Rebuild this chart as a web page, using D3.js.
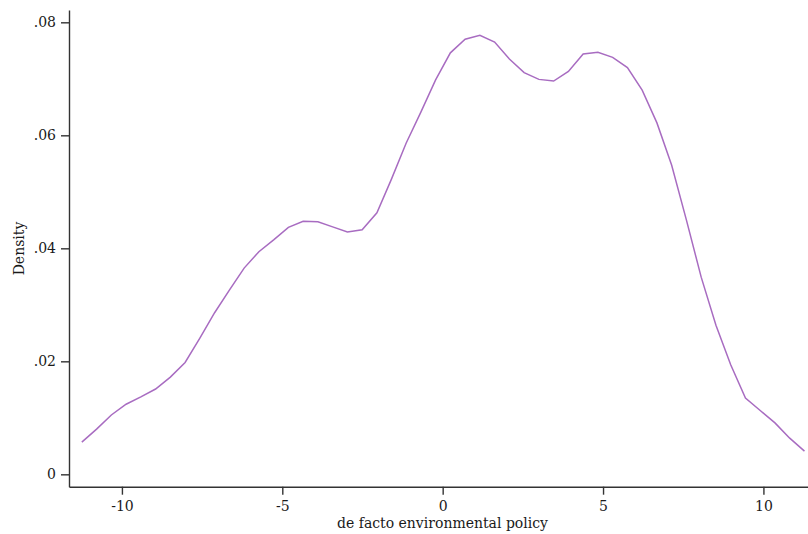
<!DOCTYPE html>
<html>
<head>
<meta charset="utf-8">
<script src="https://cdn.jsdelivr.net/npm/d3@7"></script>
<style>
  body { margin: 0; background: #fff; }
  svg text { font-family: "DejaVu Serif", "Liberation Serif", serif; fill: #1a1a1a; }
</style>
</head>
<body>
<div id="chart"></div>
<script>
// Kernel density estimate (50 evaluation points)
const xValues = [-11.25, -10.79, -10.33, -9.87, -9.41, -8.95, -8.49, -8.03, -7.57, -7.11,
                 -6.65, -6.19, -5.73, -5.27, -4.81, -4.35, -3.89, -3.43, -2.97, -2.51,
                 -2.05, -1.60, -1.14, -0.68, -0.22, 0.24, 0.70, 1.16, 1.62, 2.08,
                 2.54, 3.00, 3.46, 3.92, 4.38, 4.84, 5.30, 5.76, 6.22, 6.68,
                 7.14, 7.60, 8.06, 8.52, 8.98, 9.44, 9.90, 10.36, 10.82, 11.28];
const density = [0.0057, 0.0080, 0.0105, 0.0124, 0.0137, 0.0151, 0.0172, 0.0198, 0.0241, 0.0286,
                 0.0326, 0.0365, 0.0394, 0.0415, 0.0437, 0.0448, 0.0447, 0.0438, 0.0429, 0.0433,
                 0.0463, 0.0522, 0.0586, 0.0641, 0.0698, 0.0746, 0.0770, 0.0777, 0.0765, 0.0735,
                 0.0711, 0.0699, 0.0696, 0.0713, 0.0744, 0.0747, 0.0738, 0.0720, 0.0680, 0.0622,
                 0.0547, 0.0450, 0.0349, 0.0264, 0.0194, 0.0135, 0.0113, 0.0091, 0.0064, 0.0041];

const xTicks = [-10, -5, 0, 5, 10];
const xTickLabels = ['-10', '-5', '0', '5', '10'];
const yTicks = [0, 0.02, 0.04, 0.06, 0.08];
const yTickLabels = ['0', '.02', '.04', '.06', '.08'];

const width = 808, height = 534;
const svg = d3.select('#chart').append('svg')
    .attr('width', width)
    .attr('height', height);

const x = d3.scaleLinear().domain([-11.65, 11.39]).range([69, 808]);
const y = d3.scaleLinear().domain([-0.00219, 0.08218]).range([486.7, 10]);

// X axis
const xAxis = svg.append('g')
    .attr('transform', 'translate(0,486.7)')
    .call(d3.axisBottom(x).tickValues(xTicks).tickSize(8).tickPadding(6)
        .tickFormat((d, i) => xTickLabels[i]).tickSizeOuter(0));
xAxis.selectAll('text').style('font-size', '14px');

// Y axis
const yAxis = svg.append('g')
    .attr('transform', 'translate(69,0)')
    .call(d3.axisLeft(y).tickValues(yTicks).tickSize(8).tickPadding(5)
        .tickFormat((d, i) => yTickLabels[i]).tickSizeOuter(0));
yAxis.selectAll('text').style('font-size', '14px');

svg.selectAll('.domain, .tick line')
    .attr('stroke', '#333')
    .attr('stroke-width', 1.4);

// Axis titles
svg.append('text')
    .attr('x', 442.5)
    .attr('y', 528)
    .attr('text-anchor', 'middle')
    .style('font-size', '14px')
    .text('de facto environmental policy');

svg.append('text')
    .attr('transform', 'translate(24,248.5) rotate(-90)')
    .attr('text-anchor', 'middle')
    .style('font-size', '14px')
    .text('Density');

// Density line
const pts = xValues.map((v, i) => [v, density[i]]);
svg.append('path')
    .datum(pts)
    .attr('fill', 'none')
    .attr('stroke', '#a86cc1')
    .attr('stroke-width', 1.5)
    .attr('d', d3.line().x(d => x(d[0])).y(d => y(d[1])));
</script>
</body>
</html>
